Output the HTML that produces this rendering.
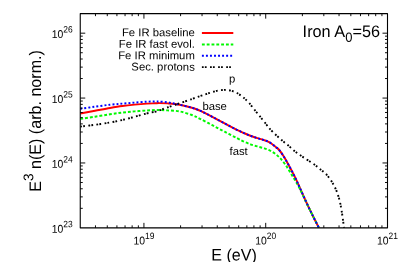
<!DOCTYPE html><html><head><meta charset="utf-8"><style>html,body{margin:0;padding:0;background:#fff}svg{display:block;will-change:transform;opacity:0.999}text{font-family:"Liberation Sans",sans-serif;fill:#000;text-rendering:geometricPrecision}</style></head><body>
<svg width="407" height="262" viewBox="0 0 407 262">
<rect width="407" height="262" fill="#fff"/>
<g fill="none" stroke-linejoin="round">
<clipPath id="c"><rect x="80.25" y="13.65" width="307.25" height="214.20"/></clipPath>
<g clip-path="url(#c)">
<path d="M80.30 113.50 C82.75 113.05 90.05 111.72 95.00 110.80 C99.95 109.88 105.45 108.80 110.00 108.00 C114.55 107.20 118.20 106.57 122.30 106.00 C126.40 105.43 130.50 105.00 134.60 104.60 C138.70 104.20 143.50 103.82 146.90 103.60 C150.30 103.38 152.97 103.38 155.00 103.30 C157.03 103.22 157.05 103.08 159.10 103.10 C161.15 103.12 163.88 103.13 167.30 103.40 C170.72 103.67 175.50 103.98 179.60 104.70 C183.70 105.42 188.50 106.70 191.90 107.70 C195.30 108.70 197.97 109.88 200.00 110.70 C202.03 111.52 202.05 111.58 204.10 112.60 C206.15 113.62 208.88 115.00 212.30 116.80 C215.72 118.60 220.50 121.22 224.60 123.40 C228.70 125.58 233.50 128.22 236.90 129.90 C240.30 131.58 242.63 132.48 245.00 133.50 C247.37 134.52 249.05 135.23 251.10 136.00 C253.15 136.77 255.25 137.45 257.30 138.10 C259.35 138.75 261.35 139.18 263.40 139.90 C265.45 140.62 267.55 141.22 269.60 142.40 C271.65 143.58 274.10 145.73 275.70 147.00 C277.30 148.27 277.90 148.48 279.20 150.00 C280.50 151.52 282.07 153.85 283.50 156.10 C284.93 158.35 286.37 160.93 287.80 163.50 C289.23 166.07 290.67 168.73 292.10 171.50 C293.53 174.27 295.13 177.43 296.40 180.10 C297.67 182.77 298.10 183.93 299.70 187.50 C301.30 191.07 303.90 196.95 306.00 201.50 C308.10 206.05 310.13 210.38 312.30 214.80 C314.47 219.22 317.88 225.80 319.00 228.00" stroke="#ff0000" stroke-width="1.95"/>
<path d="M80.30 118.90 C82.75 118.53 90.05 117.47 95.00 116.70 C99.95 115.93 105.45 114.98 110.00 114.30 C114.55 113.62 118.20 113.08 122.30 112.60 C126.40 112.12 130.50 111.75 134.60 111.40 C138.70 111.05 143.50 110.73 146.90 110.50 C150.30 110.27 152.97 110.08 155.00 110.00 C157.03 109.92 157.05 109.93 159.10 110.00 C161.15 110.07 163.88 110.17 167.30 110.40 C170.72 110.63 175.50 110.63 179.60 111.40 C183.70 112.17 188.50 113.77 191.90 115.00 C195.30 116.23 196.60 117.10 200.00 118.80 C203.40 120.50 208.20 123.05 212.30 125.20 C216.40 127.35 220.50 129.55 224.60 131.70 C228.70 133.85 233.50 136.37 236.90 138.10 C240.30 139.83 242.63 141.02 245.00 142.10 C247.37 143.18 249.05 143.88 251.10 144.60 C253.15 145.32 255.25 145.82 257.30 146.40 C259.35 146.98 261.35 147.43 263.40 148.10 C265.45 148.77 267.55 149.38 269.60 150.40 C271.65 151.42 273.87 152.82 275.70 154.20 C277.53 155.58 278.98 156.95 280.60 158.70 C282.22 160.45 283.88 162.57 285.40 164.70 C286.92 166.83 288.17 169.03 289.70 171.50 C291.23 173.97 293.02 176.83 294.60 179.50 C296.18 182.17 297.33 183.83 299.20 187.50 C301.07 191.17 303.62 196.95 305.80 201.50 C307.98 206.05 310.10 210.38 312.30 214.80 C314.50 219.22 317.88 225.80 319.00 228.00" stroke="#00f800" stroke-width="1.95" stroke-dasharray="2.86 1.95"/>
<path d="M80.30 108.80 C82.75 108.45 90.05 107.38 95.00 106.70 C99.95 106.02 105.45 105.21 110.00 104.70 C114.55 104.19 118.20 104.00 122.30 103.65 C126.40 103.30 130.50 102.92 134.60 102.60 C138.70 102.27 143.50 101.88 146.90 101.70 C150.30 101.52 152.97 101.52 155.00 101.50 C157.03 101.48 157.05 101.47 159.10 101.60 C161.15 101.73 164.82 101.98 167.30 102.30 C169.78 102.62 171.95 103.10 174.00 103.50 C176.05 103.90 176.62 104.00 179.60 104.70 C182.58 105.40 188.50 106.70 191.90 107.70 C195.30 108.70 197.97 109.88 200.00 110.70 C202.03 111.52 202.05 111.58 204.10 112.60 C206.15 113.62 208.88 115.00 212.30 116.80 C215.72 118.60 220.50 121.22 224.60 123.40 C228.70 125.58 233.50 128.22 236.90 129.90 C240.30 131.58 242.63 132.48 245.00 133.50 C247.37 134.52 249.05 135.23 251.10 136.00 C253.15 136.77 255.25 137.45 257.30 138.10 C259.35 138.75 261.35 139.18 263.40 139.90 C265.45 140.62 267.55 141.22 269.60 142.40 C271.65 143.58 274.10 145.73 275.70 147.00 C277.30 148.27 277.90 148.48 279.20 150.00 C280.50 151.52 282.07 153.85 283.50 156.10 C284.93 158.35 286.37 160.93 287.80 163.50 C289.23 166.07 290.67 168.73 292.10 171.50 C293.53 174.27 295.13 177.43 296.40 180.10 C297.67 182.77 298.10 183.93 299.70 187.50 C301.30 191.07 303.90 196.95 306.00 201.50 C308.10 206.05 310.13 210.38 312.30 214.80 C314.47 219.22 317.88 225.80 319.00 228.00" stroke="#0000ff" stroke-width="1.95" stroke-dasharray="1.95 2.09"/>
<path d="M80.30 126.60 C82.75 126.30 90.05 125.48 95.00 124.80 C99.95 124.12 105.45 123.30 110.00 122.50 C114.55 121.70 118.20 120.95 122.30 120.00 C126.40 119.05 130.50 117.90 134.60 116.80 C138.70 115.70 143.50 114.25 146.90 113.40 C150.30 112.55 152.97 112.18 155.00 111.70 C157.03 111.22 157.05 111.20 159.10 110.50 C161.15 109.80 163.88 108.70 167.30 107.50 C170.72 106.30 175.50 104.72 179.60 103.30 C183.70 101.88 188.50 100.20 191.90 99.00 C195.30 97.80 197.63 96.92 200.00 96.10 C202.37 95.28 204.05 94.78 206.10 94.10 C208.15 93.42 210.25 92.60 212.30 92.00 C214.35 91.40 216.35 90.85 218.40 90.50 C220.45 90.15 222.55 89.88 224.60 89.90 C226.65 89.92 228.65 90.08 230.70 90.60 C232.75 91.12 234.85 91.90 236.90 93.00 C238.95 94.10 240.95 95.52 243.00 97.20 C245.05 98.88 247.03 100.70 249.20 103.10 C251.37 105.50 253.95 109.07 256.00 111.60 C258.05 114.13 259.77 116.15 261.50 118.30 C263.23 120.45 265.15 122.88 266.40 124.50 C267.65 126.12 267.45 126.28 269.00 128.00 C270.55 129.72 273.55 132.75 275.70 134.80 C277.85 136.85 279.85 138.57 281.90 140.30 C283.95 142.03 285.97 143.47 288.00 145.20 C290.03 146.93 291.98 148.98 294.10 150.70 C296.22 152.42 298.37 153.88 300.70 155.50 C303.03 157.12 305.63 158.75 308.10 160.40 C310.57 162.05 313.67 164.07 315.50 165.40 C317.33 166.73 317.93 167.47 319.10 168.40 C320.27 169.33 321.20 169.90 322.50 171.00 C323.80 172.10 325.28 173.12 326.90 175.00 C328.52 176.88 330.62 179.68 332.20 182.30 C333.78 184.92 335.18 187.72 336.40 190.70 C337.62 193.68 338.63 196.88 339.50 200.20 C340.37 203.52 340.90 206.42 341.60 210.60 C342.30 214.78 343.28 222.32 343.70 225.30 C344.12 228.28 344.03 227.97 344.10 228.50" stroke="#000" stroke-width="1.9" stroke-dasharray="1.77 1.18 1.77 3.38"/>
</g>
<path d="M201.9 33H233.3" stroke="#ff0000" stroke-width="1.95"/>
<path d="M201.9 44.5H233.3" stroke="#00f800" stroke-width="1.95" stroke-dasharray="2.86 1.95"/>
<path d="M201.9 55.7H233.3" stroke="#0000ff" stroke-width="1.95" stroke-dasharray="1.95 2.09"/>
<path d="M201.9 67.1H233.3" stroke="#000" stroke-width="1.9" stroke-dasharray="1.77 1.18 1.77 3.38"/>
<rect x="80.25" y="13.65" width="307.25" height="214.20" stroke="#000" stroke-width="1.1"/>
<path d="M95.47 227.85 v-2.50 M95.47 13.65 v2.50 M107.27 227.85 v-2.50 M107.27 13.65 v2.50 M116.91 227.85 v-2.50 M116.91 13.65 v2.50 M125.06 227.85 v-2.50 M125.06 13.65 v2.50 M132.13 227.85 v-2.50 M132.13 13.65 v2.50 M138.36 227.85 v-2.50 M138.36 13.65 v2.50 M143.93 227.85 v-5.00 M143.93 13.65 v5.00 M180.59 227.85 v-2.50 M180.59 13.65 v2.50 M202.04 227.85 v-2.50 M202.04 13.65 v2.50 M217.25 227.85 v-2.50 M217.25 13.65 v2.50 M229.05 227.85 v-2.50 M229.05 13.65 v2.50 M238.70 227.85 v-2.50 M238.70 13.65 v2.50 M246.85 227.85 v-2.50 M246.85 13.65 v2.50 M253.91 227.85 v-2.50 M253.91 13.65 v2.50 M260.14 227.85 v-2.50 M260.14 13.65 v2.50 M265.71 227.85 v-5.00 M265.71 13.65 v5.00 M302.38 227.85 v-2.50 M302.38 13.65 v2.50 M323.82 227.85 v-2.50 M323.82 13.65 v2.50 M339.04 227.85 v-2.50 M339.04 13.65 v2.50 M350.84 227.85 v-2.50 M350.84 13.65 v2.50 M360.48 227.85 v-2.50 M360.48 13.65 v2.50 M368.64 227.85 v-2.50 M368.64 13.65 v2.50 M375.70 227.85 v-2.50 M375.70 13.65 v2.50 M381.93 227.85 v-2.50 M381.93 13.65 v2.50 M80.25 208.32 h2.50 M387.50 208.32 h-2.50 M80.25 196.89 h2.50 M387.50 196.89 h-2.50 M80.25 188.78 h2.50 M387.50 188.78 h-2.50 M80.25 182.49 h2.50 M387.50 182.49 h-2.50 M80.25 177.36 h2.50 M387.50 177.36 h-2.50 M80.25 173.01 h2.50 M387.50 173.01 h-2.50 M80.25 169.25 h2.50 M387.50 169.25 h-2.50 M80.25 165.93 h2.50 M387.50 165.93 h-2.50 M80.25 162.96 h5.00 M387.50 162.96 h-5.00 M80.25 143.43 h2.50 M387.50 143.43 h-2.50 M80.25 132.00 h2.50 M387.50 132.00 h-2.50 M80.25 123.89 h2.50 M387.50 123.89 h-2.50 M80.25 117.61 h2.50 M387.50 117.61 h-2.50 M80.25 112.47 h2.50 M387.50 112.47 h-2.50 M80.25 108.12 h2.50 M387.50 108.12 h-2.50 M80.25 104.36 h2.50 M387.50 104.36 h-2.50 M80.25 101.04 h2.50 M387.50 101.04 h-2.50 M80.25 98.07 h5.00 M387.50 98.07 h-5.00 M80.25 78.54 h2.50 M387.50 78.54 h-2.50 M80.25 67.11 h2.50 M387.50 67.11 h-2.50 M80.25 59.01 h2.50 M387.50 59.01 h-2.50 M80.25 52.72 h2.50 M387.50 52.72 h-2.50 M80.25 47.58 h2.50 M387.50 47.58 h-2.50 M80.25 43.23 h2.50 M387.50 43.23 h-2.50 M80.25 39.47 h2.50 M387.50 39.47 h-2.50 M80.25 36.15 h2.50 M387.50 36.15 h-2.50 M80.25 33.18 h5.00 M387.50 33.18 h-5.00" stroke="#000" stroke-width="0.95"/>
</g>
<text transform="matrix(1.0000,0.0008,0,1.0000,194.80,36.35)" font-size="11.30" text-anchor="end">Fe IR baseline</text>
<text transform="matrix(1.0000,0.0008,0,1.0000,194.80,47.78)" font-size="11.30" text-anchor="end">Fe IR fast evol.</text>
<text transform="matrix(1.0000,0.0008,0,1.0000,194.80,59.21)" font-size="11.30" text-anchor="end">Fe IR minimum</text>
<text transform="matrix(1.0000,0.0008,0,1.0000,194.80,70.64)" font-size="11.30" text-anchor="end">Sec. protons</text>
<text transform="matrix(1.0180,0.0008,0,1.0400,302.60,36.90)" font-size="16.00">Iron A<tspan font-size="12.80" dy="4.70">0</tspan><tspan dy="-4.70">=56</tspan></text>
<text transform="matrix(1.0000,0.0008,0,1.0000,229.00,82.40)" font-size="11.30">p</text>
<text transform="matrix(1.0000,0.0008,0,1.0000,202.40,110.00)" font-size="11.30">base</text>
<text transform="matrix(1.0000,0.0008,0,1.0000,229.50,155.10)" font-size="11.30">fast</text>
<text transform="matrix(0.9200,0.0008,0,1.0000,51.70,232.70)" font-size="11.30">10<tspan font-size="9.20" dy="-5.45">23</tspan></text>
<text transform="matrix(0.9200,0.0008,0,1.0000,51.70,167.81)" font-size="11.30">10<tspan font-size="9.20" dy="-5.45">24</tspan></text>
<text transform="matrix(0.9200,0.0008,0,1.0000,51.70,102.92)" font-size="11.30">10<tspan font-size="9.20" dy="-5.45">25</tspan></text>
<text transform="matrix(0.9200,0.0008,0,1.0000,51.70,38.03)" font-size="11.30">10<tspan font-size="9.20" dy="-5.45">26</tspan></text>
<text transform="matrix(0.9200,0.0008,0,1.0000,133.38,244.50)" font-size="11.30">10<tspan font-size="9.20" dy="-5.45">19</tspan></text>
<text transform="matrix(0.9200,0.0008,0,1.0000,255.16,244.50)" font-size="11.30">10<tspan font-size="9.20" dy="-5.45">20</tspan></text>
<text transform="matrix(0.9200,0.0008,0,1.0000,376.95,244.50)" font-size="11.30">10<tspan font-size="9.20" dy="-5.45">21</tspan></text>
<text transform="matrix(1.0070,0.0008,0,1.0400,211.20,260.60)" font-size="16.00">E (eV)</text>
<text transform="translate(41.00,191.80) rotate(-89.95) scale(1.0060,1.0400)" font-size="16.00">E<tspan font-size="13.44" dy="-7.40">3</tspan><tspan dy="7.40"> n(E) (arb. norm.)</tspan></text>
</svg></body></html>
